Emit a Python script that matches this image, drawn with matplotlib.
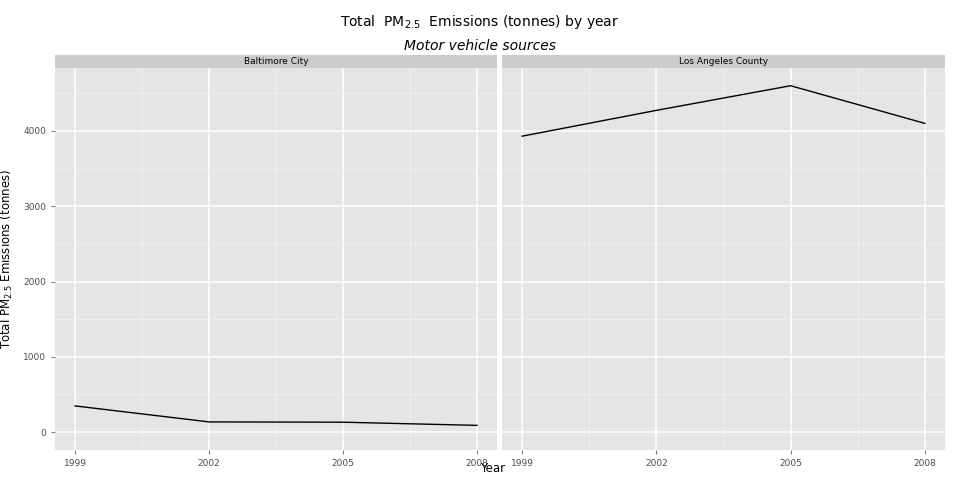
import matplotlib
matplotlib.use("Agg")
import matplotlib.pyplot as plt

years = [1999, 2002, 2005, 2008]
baltimore = [346.82, 134.31, 130.43, 88.28]
los_angeles = [3931.12, 4274.03, 4601.41, 4101.32]
panels = ["Baltimore City", "Los Angeles County"]
series = [baltimore, los_angeles]

fig = plt.figure(figsize=(9.6, 4.8), dpi=100)
W, H = 960, 480
lefts = [55, 502]
widths = [442, 443]
top, bottom = 68, 450

for i, (name, vals) in enumerate(zip(panels, series)):
    ax = fig.add_axes([lefts[i] / W, 1 - bottom / H, widths[i] / W, (bottom - top) / H])
    ax.set_facecolor("#E5E5E5")
    ax.set_xlim(1998.55, 2008.45)
    ax.set_ylim(-239, 4837)
    ax.set_xticks(years)
    ax.set_yticks([0, 1000, 2000, 3000, 4000])
    ax.set_xticks([2000.5, 2003.5, 2006.5], minor=True)
    ax.set_yticks([500, 1500, 2500, 3500, 4500], minor=True)
    ax.grid(which="major", color="white", lw=1.1)
    ax.grid(which="minor", color="#F2F2F2", lw=0.5)
    ax.set_axisbelow(True)
    for s in ax.spines.values():
        s.set_visible(False)
    ax.tick_params(which="both", length=3, color="#7F7F7F", labelsize=6.5, labelcolor="#4D4D4D")
    ax.tick_params(which="minor", length=0)
    if i == 1:
        ax.tick_params(axis="y", labelleft=False, length=0)
    else:
        ax.set_ylabel("Total PM$_{2.5}$ Emissions (tonnes)", fontsize=8.5, labelpad=6)

    ax.plot(years, vals, color="black", lw=1)

    sax = fig.add_axes([lefts[i] / W, 1 - top / H, widths[i] / W, 13 / H])
    sax.set_facecolor("#CCCCCC")
    sax.set_xticks([])
    sax.set_yticks([])
    for s in sax.spines.values():
        s.set_visible(False)
    sax.text(0.5, 0.5, name, ha="center", va="center", fontsize=6.5, transform=sax.transAxes)

fig.text(0.5, 1 - 22 / H, "Total  PM$_{2.5}$  Emissions (tonnes) by year", ha="center", va="center", fontsize=10)
fig.text(0.5, 1 - 46 / H, "Motor vehicle sources", ha="center", va="center", fontsize=10, style="italic")
fig.text(493 / W, 1 - 468 / H, "Year", ha="center", va="center", fontsize=8.5)

fig.savefig("out.png", dpi=100)
